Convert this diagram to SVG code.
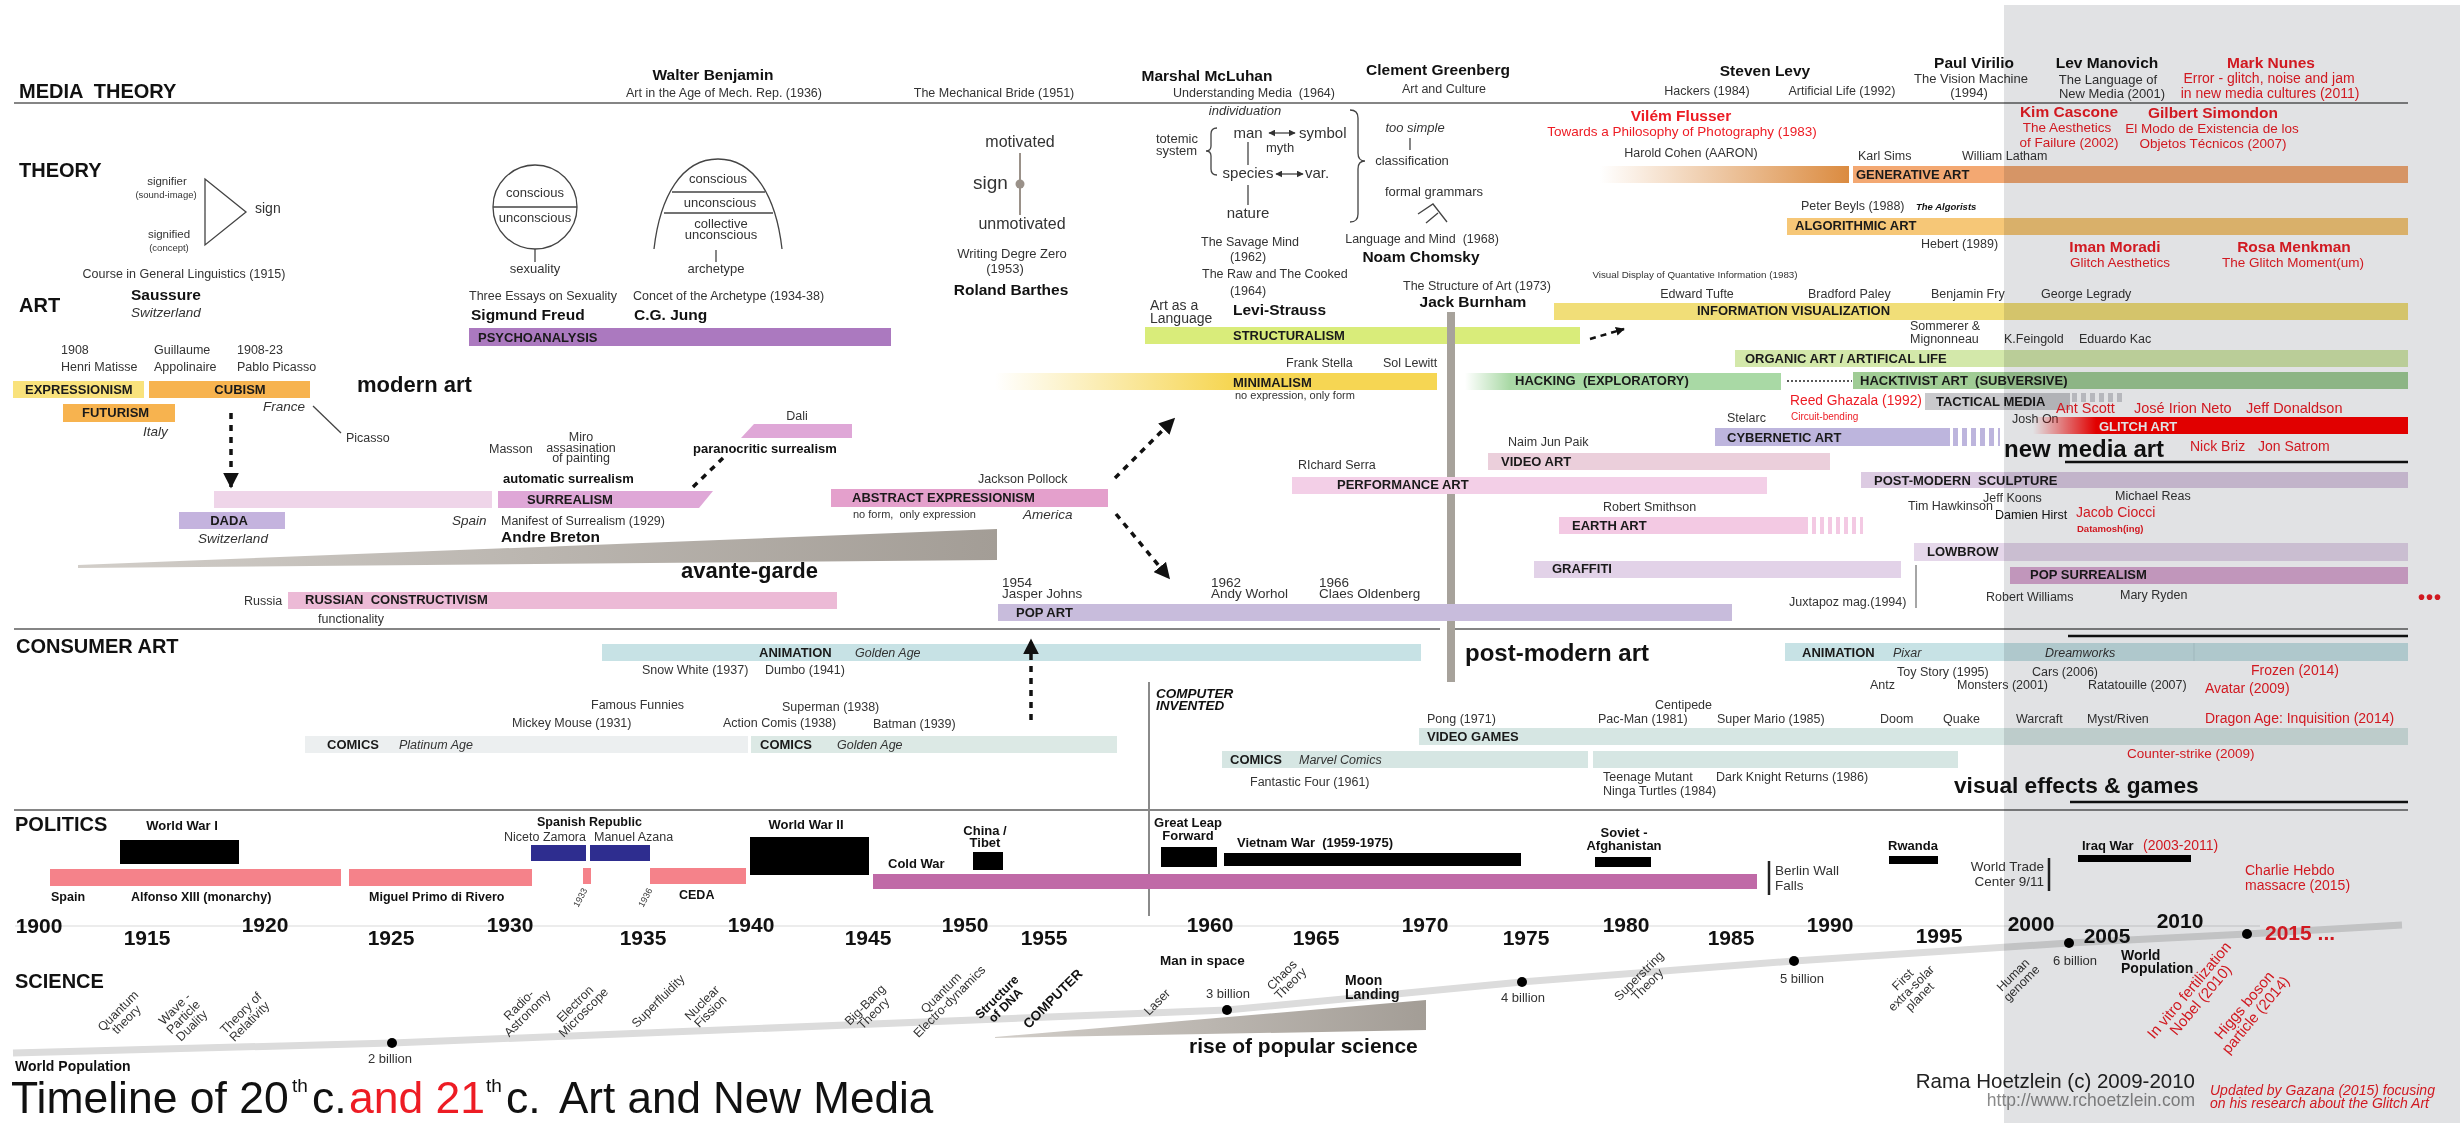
<svg xmlns="http://www.w3.org/2000/svg" width="2460" height="1123" viewBox="0 0 2460 1123">
<defs>
<style>
text{font-family:"Liberation Sans",Arial,sans-serif;font-size:12.5px;fill:#333}
.b{font-weight:bold;fill:#111}
.i{font-style:italic}
.m{text-anchor:middle}
.e{text-anchor:end}
.h{font-size:20px;font-weight:bold;fill:#111}
.n{font-size:15.5px;font-weight:bold;fill:#111}
.bl{font-size:13px;font-weight:bold;fill:#1a1a1a}
.yr{font-size:21px;font-weight:bold;fill:#111;text-anchor:middle}
.r{fill:#ed1c24}
.s{font-size:11px}
.xs{font-size:9.5px}
.md{font-size:13px}
.lg{font-size:15px}
.rot{font-size:12.5px;text-anchor:middle}
.ln{stroke:#444;fill:none;stroke-width:1.3}
.sep{stroke:#858585;stroke-width:2}
.ul{stroke:#111;stroke-width:2.5}
.dash{stroke:#111;stroke-width:3.5;fill:none;stroke-dasharray:6 6}
</style>
<marker id="ah" markerUnits="userSpaceOnUse" markerWidth="16" markerHeight="16" viewBox="0 0 10 10" refX="9" refY="5" orient="auto"><path d="M0,0 L10,5 L0,10 z" fill="#111"/></marker>
<marker id="ahs" markerUnits="userSpaceOnUse" markerWidth="9" markerHeight="9" viewBox="0 0 10 10" refX="9" refY="5" orient="auto"><path d="M0,0 L10,5 L0,10 z" fill="#111"/></marker>
<marker id="dbl" markerUnits="userSpaceOnUse" markerWidth="7" markerHeight="7" viewBox="0 0 10 10" refX="9" refY="5" orient="auto-start-reverse"><path d="M0,0 L10,5 L0,10 z" fill="#333"/></marker>
<linearGradient id="gMin" gradientUnits="userSpaceOnUse" x1="995" y1="0" x2="1230" y2="0"><stop offset="0" stop-color="#f6d653" stop-opacity="0"/><stop offset="1" stop-color="#f6d653"/></linearGradient>
<linearGradient id="gGen" gradientUnits="userSpaceOnUse" x1="1600" y1="0" x2="1849" y2="0"><stop offset="0" stop-color="#db8b40" stop-opacity="0"/><stop offset="1" stop-color="#db8b40"/></linearGradient>
<linearGradient id="gHack" gradientUnits="userSpaceOnUse" x1="1465" y1="0" x2="1510" y2="0"><stop offset="0" stop-color="#a9d9a5" stop-opacity="0"/><stop offset="1" stop-color="#a9d9a5"/></linearGradient>
<linearGradient id="gGl" gradientUnits="userSpaceOnUse" x1="2033" y1="0" x2="2096" y2="0"><stop offset="0" stop-color="#ff0000" stop-opacity="0"/><stop offset="1" stop-color="#ff0000"/></linearGradient>
<linearGradient id="gAv" gradientUnits="userSpaceOnUse" x1="78" y1="0" x2="997" y2="0"><stop offset="0" stop-color="#d2cec9"/><stop offset="1" stop-color="#a39d96"/></linearGradient>
<linearGradient id="gPop" gradientUnits="userSpaceOnUse" x1="995" y1="0" x2="1426" y2="0"><stop offset="0" stop-color="#d2cec9"/><stop offset="1" stop-color="#a39d96"/></linearGradient>
<pattern id="pCyb" patternUnits="userSpaceOnUse" x="1953" y="0" width="9" height="20"><rect width="5" height="20" fill="#bdb5dd"/></pattern>
<pattern id="pEarth" patternUnits="userSpaceOnUse" x="1812" y="0" width="8" height="20"><rect width="4" height="20" fill="#f3c9e3"/></pattern>
<pattern id="pTac" patternUnits="userSpaceOnUse" x="2072" y="0" width="9" height="20"><rect width="5" height="20" fill="#cfcfd2"/></pattern>
</defs>
<rect width="2460" height="1123" fill="#fff"/>

<!-- section headings and rules -->
<g id="sections">
<text class="h" x="19" y="98" xml:space="preserve">MEDIA  THEORY</text>
<text class="h" x="19" y="177">THEORY</text>
<text class="h" x="19" y="312">ART</text>
<text class="h" x="16" y="653">CONSUMER ART</text>
<text class="h" x="15" y="831">POLITICS</text>
<text class="h" x="15" y="988">SCIENCE</text>
<line class="sep" x1="14" y1="103" x2="2408" y2="103"/>
<line class="sep" x1="14" y1="629" x2="1440" y2="629"/>
<line class="sep" x1="1455" y1="629" x2="2408" y2="629"/>
<line class="sep" x1="14" y1="810" x2="2408" y2="810"/>
<line class="ul" x1="2065" y1="462" x2="2408" y2="462"/>
<line class="ul" x1="2068" y1="636" x2="2408" y2="636"/>
<line class="ul" x1="2070" y1="802" x2="2408" y2="802"/>
</g>

<!-- media theory authors -->
<g id="media-theory">
<text class="n m" x="713" y="80">Walter Benjamin</text>
<text class="m" x="724" y="97">Art in the Age of Mech. Rep. (1936)</text>
<text class="m" x="994" y="97">The Mechanical Bride (1951)</text>
<text class="n m" x="1207" y="81">Marshal McLuhan</text>
<text class="m" x="1254" y="97" xml:space="preserve">Understanding Media  (1964)</text>
<text class="n m" x="1438" y="75">Clement Greenberg</text>
<text class="m" x="1444" y="93">Art and Culture</text>
<text class="n m" x="1765" y="76">Steven Levy</text>
<text class="m" x="1707" y="95">Hackers (1984)</text>
<text class="m" x="1842" y="95">Artificial Life (1992)</text>
<text class="n m" x="1974" y="68">Paul Virilio</text>
<text class="m md" x="1971" y="83">The Vision Machine</text>
<text class="m md" x="1969" y="97">(1994)</text>
<text class="n m" x="2107" y="68">Lev Manovich</text>
<text class="m md" x="2108" y="84">The Language of</text>
<text class="m md" x="2112" y="98">New Media (2001)</text>
<text class="n m r" x="2271" y="68">Mark Nunes</text>
<text class="m r" x="2269" y="83" style="font-size:14px">Error - glitch, noise and jam</text>
<text class="m r" x="2270" y="98" style="font-size:14px">in new media cultures (2011)</text>
</g>

<!-- Saussure -->
<g id="saussure">
<text class="m" x="167" y="185" style="font-size:11.5px">signifier</text>
<text class="m xs" x="166" y="198">(sound-image)</text>
<path class="ln" d="M205,179 L246,212 L205,245 Z"/>
<text x="255" y="213" style="font-size:14px">sign</text>
<text class="m" x="169" y="238" style="font-size:11.5px">signified</text>
<text class="m xs" x="169" y="251">(concept)</text>
<text class="m" x="184" y="278">Course in General Linguistics (1915)</text>
<text class="n" x="131" y="300">Saussure</text>
<text class="i" x="131" y="317" style="font-size:13.5px">Switzerland</text>
</g>

<!-- Freud -->
<g id="freud">
<circle class="ln" cx="535" cy="207" r="42"/>
<line class="ln" x1="493" y1="207" x2="577" y2="207"/>
<text class="m md" x="535" y="197">conscious</text>
<text class="m md" x="535" y="222">unconscious</text>
<line class="ln" x1="535" y1="249" x2="535" y2="262"/>
<text class="m md" x="535" y="273">sexuality</text>
<text x="469" y="300">Three Essays on Sexuality</text>
<text class="n" x="471" y="320">Sigmund Freud</text>
<rect x="469" y="328" width="422" height="18" fill="#ab79bf"/>
<text class="bl" x="478" y="342">PSYCHOANALYSIS</text>
</g>

<!-- Jung -->
<g id="jung">
<path class="ln" d="M654,249 C660,196 682,159 718,159 C754,159 776,196 782,249"/>
<line class="ln" x1="672" y1="192" x2="765" y2="192"/>
<line class="ln" x1="664" y1="213" x2="773" y2="213"/>
<text class="m md" x="718" y="183">conscious</text>
<text class="m md" x="720" y="207">unconscious</text>
<text class="m md" x="721" y="228">collective</text>
<text class="m md" x="721" y="239">unconscious</text>
<line class="ln" x1="716" y1="250" x2="716" y2="262"/>
<text class="m md" x="716" y="273">archetype</text>
<text x="633" y="300">Concet of the Archetype (1934-38)</text>
<text class="n" x="634" y="320">C.G. Jung</text>
</g>

<!-- Barthes -->
<g id="barthes">
<text class="m" x="1020" y="147" style="font-size:16px">motivated</text>
<line x1="1020" y1="153" x2="1020" y2="215" stroke="#9a9189" stroke-width="2"/>
<circle cx="1020" cy="184" r="4.5" fill="#9a9189"/>
<text x="973" y="189" style="font-size:19px">sign</text>
<text class="m" x="1022" y="229" style="font-size:16px">unmotivated</text>
<text class="m md" x="1012" y="258">Writing Degre Zero</text>
<text class="m md" x="1005" y="273">(1953)</text>
<text class="n m" x="1011" y="295">Roland Barthes</text>
</g>

<!-- Levi-Strauss -->
<g id="levi-strauss">
<text class="m i md" x="1245" y="115">individuation</text>
<text x="1156" y="143" class="md">totemic</text>
<text x="1156" y="155" class="md">system</text>
<path class="ln" d="M1217,128 Q1211,128 1211,134 L1211,146 Q1211,151 1206,151 Q1211,151 1211,156 L1211,169 Q1211,175 1217,175"/>
<text class="m lg" x="1248" y="138">man</text>
<line class="ln" x1="1269" y1="133" x2="1295" y2="133" marker-start="url(#dbl)" marker-end="url(#dbl)"/>
<text class="lg" x="1299" y="138">symbol</text>
<text class="md" x="1266" y="152">myth</text>
<line class="ln" x1="1248" y1="142" x2="1248" y2="165"/>
<text class="m lg" x="1248" y="178">species</text>
<line class="ln" x1="1276" y1="174" x2="1303" y2="174" marker-start="url(#dbl)" marker-end="url(#dbl)"/>
<text class="lg" x="1305" y="178">var.</text>
<line class="ln" x1="1248" y1="185" x2="1248" y2="205"/>
<text class="m lg" x="1248" y="218">nature</text>
<path class="ln" d="M1350,110 Q1358,110 1358,118 L1358,153 Q1358,161 1365,161 Q1358,161 1358,169 L1358,214 Q1358,222 1350,222"/>
<text x="1201" y="246">The Savage Mind</text>
<text class="m" x="1248" y="261">(1962)</text>
<text x="1202" y="278">The Raw and The Cooked</text>
<text class="m" x="1248" y="295">(1964)</text>
<text class="n" x="1233" y="315">Levi-Strauss</text>
<text x="1150" y="310" style="font-size:14px">Art as a</text>
<text x="1150" y="323" style="font-size:14px">Language</text>
<rect x="1145" y="327" width="435" height="17" fill="#d9ec7a"/>
<text class="bl" x="1233" y="340">STRUCTURALISM</text>
</g>

<!-- Chomsky -->
<g id="chomsky">
<text class="m i md" x="1415" y="132">too simple</text>
<line class="ln" x1="1410" y1="138" x2="1410" y2="150"/>
<text class="m md" x="1412" y="165">classification</text>
<text class="m md" x="1434" y="196">formal grammars</text>
<path class="ln" d="M1418,214 L1433,204 L1447,222 M1426,223 L1438,213"/>
<text class="m" x="1422" y="243" xml:space="preserve">Language and Mind  (1968)</text>
<text class="n m" x="1421" y="262">Noam Chomsky</text>
</g>

<!-- Burnham and the post-modern divide -->
<g id="burnham">
<text class="m" x="1477" y="290">The Structure of Art (1973)</text>
<text class="n m" x="1473" y="307">Jack Burnham</text>
<rect x="1447" y="312" width="8" height="370" fill="#a7a29b"/>
</g>

<!-- red media theorists -->
<g id="theorists-2000s">
<text class="n m r" x="1681" y="121">Vilém Flusser</text>
<text class="m r" x="1682" y="136" style="font-size:13.5px">Towards a Philosophy of Photography (1983)</text>
<text class="n m r" x="2069" y="117">Kim Cascone</text>
<text class="m r" x="2067" y="132" style="font-size:13.5px">The Aesthetics</text>
<text class="m r" x="2069" y="147" style="font-size:13.5px">of Failure (2002)</text>
<text class="n m r" x="2213" y="118">Gilbert Simondon</text>
<text class="m r" x="2212" y="133" style="font-size:13.5px">El Modo de Existencia de los</text>
<text class="m r" x="2213" y="148" style="font-size:13.5px">Objetos Técnicos (2007)</text>
<text class="n m r" x="2115" y="252">Iman Moradi</text>
<text class="m r" x="2120" y="267" style="font-size:13.5px">Glitch Aesthetics</text>
<text class="n m r" x="2294" y="252">Rosa Menkman</text>
<text class="m r" x="2293" y="267" style="font-size:13.5px">The Glitch Moment(um)</text>
</g>

<!-- generative / algorithmic -->
<g id="generative-art">
<text class="m" x="1691" y="157">Harold Cohen (AARON)</text>
<rect x="1600" y="166" width="249" height="17" fill="url(#gGen)"/>
<rect x="1853" y="166" width="555" height="17" fill="#f3a872"/>
<text x="1858" y="160">Karl Sims</text>
<text x="1962" y="160">William Latham</text>
<text class="bl" x="1856" y="179">GENERATIVE ART</text>
</g>
<g id="algorithmic-art">
<text x="1801" y="210">Peter Beyls (1988)</text>
<text class="b i xs" x="1916" y="210">The Algorists</text>
<rect x="1787" y="218" width="621" height="17" fill="#f6c777"/>
<text class="bl" x="1795" y="230">ALGORITHMIC ART</text>
<text x="1921" y="248">Hebert (1989)</text>
</g>

<!-- information visualization -->
<g id="info-vis">
<text class="m" x="1695" y="278" style="font-size:9.8px">Visual Display of Quantative Information (1983)</text>
<text class="m" x="1697" y="298">Edward Tufte</text>
<text x="1808" y="298">Bradford Paley</text>
<text x="1931" y="298">Benjamin Fry</text>
<text x="2041" y="298">George Legrady</text>
<rect x="1554" y="303" width="854" height="17" fill="#f1de78"/>
<text class="bl" x="1697" y="315">INFORMATION VISUALIZATION</text>
</g>
<g id="organic-art">
<text x="1910" y="330">Sommerer &amp;</text>
<text x="1910" y="343">Mignonneau</text>
<text x="2004" y="343">K.Feingold</text>
<text x="2079" y="343">Eduardo Kac</text>
<rect x="1735" y="350" width="673" height="17" fill="#d3e8aa"/>
<text class="bl" x="1745" y="363">ORGANIC ART / ARTIFICAL LIFE</text>
</g>

<!-- minimalism -->
<g id="minimalism">
<text x="1286" y="367">Frank Stella</text>
<text x="1383" y="367">Sol Lewitt</text>
<rect x="995" y="373" width="442" height="17" fill="url(#gMin)"/>
<text class="bl" x="1233" y="387">MINIMALISM</text>
<text class="s" x="1235" y="399">no expression, only form</text>
</g>

<!-- hacking -->
<g id="hacking">
<rect x="1465" y="373" width="316" height="17" fill="url(#gHack)"/>
<text class="bl" x="1515" y="385" xml:space="preserve">HACKING  (EXPLORATORY)</text>
</g>
<g id="hacktivist-art">
<rect x="1853" y="372" width="555" height="17" fill="#a0cc95"/>
<text class="bl" x="1860" y="385" xml:space="preserve">HACKTIVIST ART  (SUBVERSIVE)</text>
<text class="r" x="1790" y="405" style="font-size:13.8px">Reed Ghazala (1992)</text>
<text class="r" x="1791" y="420" style="font-size:10px">Circuit-bending</text>
</g>
<g id="tactical-media">
<rect x="1925" y="393" width="145" height="17" fill="#c9c9cc"/>
<rect x="2070" y="393" width="53" height="9" fill="url(#pTac)"/>
<text class="bl" x="1936" y="406">TACTICAL MEDIA</text>
</g>
<g id="glitch-art">
<text class="r" x="2056" y="413" style="font-size:14.5px">Ant Scott</text>
<text class="r" x="2134" y="413" style="font-size:14.5px">José Irion Neto</text>
<text class="r" x="2246" y="413" style="font-size:14.5px">Jeff Donaldson</text>
<text x="2012" y="423">Josh On</text>
<rect x="2033" y="417" width="375" height="17" fill="url(#gGl)"/>
<text class="bl" x="2099" y="431" style="fill:#fff">GLITCH ART</text>
<text class="r" x="2190" y="451" style="font-size:14px">Nick Briz</text>
<text class="r" x="2258" y="451" style="font-size:14px">Jon Satrom</text>
<text x="2004" y="457" style="font-size:24px;font-weight:bold;fill:#111">new media art</text>
</g>

<!-- cybernetic, video, performance, earth art, graffiti -->
<g id="cybernetic-art">
<text x="1727" y="422">Stelarc</text>
<rect x="1715" y="428" width="235" height="18" fill="#bdb5dd"/>
<rect x="1953" y="428" width="47" height="18" fill="url(#pCyb)"/>
<text class="bl" x="1727" y="442">CYBERNETIC ART</text>
</g>
<g id="video-art">
<text x="1508" y="446">Naim Jun Paik</text>
<rect x="1488" y="453" width="342" height="17" fill="#ebcfdb"/>
<text class="bl" x="1501" y="466">VIDEO ART</text>
</g>
<g id="performance-art">
<text x="1298" y="469">RIchard Serra</text>
<rect x="1292" y="477" width="475" height="17" fill="#f3cfe7"/>
<text class="bl" x="1337" y="489">PERFORMANCE ART</text>
</g>
<g id="earth-art">
<text x="1603" y="511">Robert Smithson</text>
<rect x="1559" y="517" width="249" height="17" fill="#f3c9e3"/>
<rect x="1812" y="517" width="51" height="17" fill="url(#pEarth)"/>
<text class="bl" x="1572" y="530">EARTH ART</text>
</g>
<g id="graffiti">
<rect x="1534" y="561" width="367" height="17" fill="#e2d2e8"/>
<text class="bl" x="1552" y="573">GRAFFITI</text>
</g>

<!-- post-modern sculpture, lowbrow -->
<g id="post-modern-sculpture">
<rect x="1861" y="472" width="547" height="16" fill="#dccbe2"/>
<text class="bl" x="1874" y="485" xml:space="preserve">POST-MODERN  SCULPTURE</text>
<text x="1983" y="502">Jeff Koons</text>
<text x="1908" y="510">Tim Hawkinson</text>
<text x="1995" y="519" style="fill:#111">Damien Hirst</text>
<text x="2115" y="500">Michael Reas</text>
<text class="r" x="2076" y="517" style="font-size:14px">Jacob Ciocci</text>
<text class="r" x="2077" y="532" style="font-size:9.5px;font-weight:bold">Datamosh(ing)</text>
</g>
<g id="lowbrow">
<rect x="1914" y="543" width="494" height="18" fill="#e5d7ea"/>
<text class="bl" x="1927" y="556">LOWBROW</text>
<line x1="1916" y1="565" x2="1916" y2="608" stroke="#888" stroke-width="1.5"/>
<text x="1789" y="606">Juxtapoz mag.(1994)</text>
</g>
<g id="pop-surrealism">
<rect x="2010" y="567" width="398" height="17" fill="#dba9d1"/>
<text class="bl" x="2030" y="579">POP SURREALISM</text>
<text x="1986" y="601">Robert Williams</text>
<text x="2120" y="599">Mary Ryden</text>
<text class="r" x="2418" y="604" style="font-size:20px;font-weight:bold;letter-spacing:1px">•••</text>
</g>

<!-- modern art movements -->
<g id="expressionism">
<text x="61" y="354">1908</text>
<text x="61" y="371">Henri Matisse</text>
<rect x="13" y="381" width="131" height="17" fill="#f9e27c"/>
<text class="bl" x="25" y="394">EXPRESSIONISM</text>
</g>
<g id="cubism">
<text x="154" y="354">Guillaume</text>
<text x="154" y="371">Appolinaire</text>
<text x="237" y="354">1908-23</text>
<text x="237" y="371">Pablo Picasso</text>
<rect x="149" y="381" width="161" height="17" fill="#f7b34f"/>
<text class="bl m" x="240" y="394">CUBISM</text>
<text class="i" x="263" y="411" style="font-size:13.5px">France</text>
<line class="ln" x1="313" y1="406" x2="341" y2="433"/>
<text x="346" y="442">Picasso</text>
</g>
<g id="futurism">
<rect x="63" y="404" width="112" height="18" fill="#f7b34f"/>
<text class="bl" x="82" y="417">FUTURISM</text>
<text class="i" x="143" y="436" style="font-size:13.5px">Italy</text>
</g>
<text x="357" y="392" style="font-size:22px;font-weight:bold;fill:#111">modern art</text>
<g id="dada">
<rect x="214" y="491" width="278" height="17" fill="#efd5e9"/>
<rect x="179" y="512" width="106" height="17" fill="#c4b3de"/>
<text class="bl m" x="229" y="525">DADA</text>
<text class="i m" x="233" y="543" style="font-size:13.5px">Switzerland</text>
<text class="i" x="452" y="525" style="font-size:13.5px">Spain</text>
</g>
<g id="surrealism">
<text x="489" y="453">Masson</text>
<text class="m" x="581" y="441">Miro</text>
<text class="m" x="581" y="452">assasination</text>
<text class="m" x="581" y="462">of painting</text>
<text class="b" x="503" y="483" style="font-size:13px">automatic surrealism</text>
<path d="M498,491 L713,491 L699,508 L498,508 Z" fill="#dfa7d7"/>
<text class="bl" x="527" y="504">SURREALISM</text>
<text x="501" y="525">Manifest of Surrealism (1929)</text>
<text class="n" x="501" y="542">Andre Breton</text>
<text class="m" x="797" y="420">Dali</text>
<path d="M754,424 L852,424 L852,438 L741,438 Z" fill="#dfa7d7"/>
<text class="b" x="693" y="453" style="font-size:13px">paranocritic surrealism</text>
</g>
<g id="abstract-expressionism">
<text x="978" y="483">Jackson Pollock</text>
<rect x="831" y="489" width="277" height="18" fill="#e4a0cc"/>
<text class="bl" x="852" y="502">ABSTRACT EXPRESSIONISM</text>
<text class="s" x="853" y="518" xml:space="preserve">no form,  only expression</text>
<text class="i" x="1023" y="519" style="font-size:13.5px">America</text>
</g>
<g id="avante-garde">
<polygon points="78,565 997,529 997,560 78,568" fill="url(#gAv)"/>
<text x="681" y="578" style="font-size:22px;font-weight:bold;fill:#111">avante-garde</text>
</g>
<g id="russian-constructivism">
<text x="244" y="605">Russia</text>
<rect x="288" y="592" width="549" height="17" fill="#ecbad6"/>
<text class="bl" x="305" y="604" xml:space="preserve">RUSSIAN  CONSTRUCTIVISM</text>
<text x="318" y="623">functionality</text>
</g>
<g id="pop-art">
<text x="1002" y="587" style="font-size:13.5px">1954</text>
<text x="1002" y="598" style="font-size:13.5px">Jasper Johns</text>
<text x="1211" y="587" style="font-size:13.5px">1962</text>
<text x="1211" y="598" style="font-size:13.5px">Andy Worhol</text>
<text x="1319" y="587" style="font-size:13.5px">1966</text>
<text x="1319" y="598" style="font-size:13.5px">Claes Oldenberg</text>
<rect x="998" y="604" width="734" height="17" fill="#c8bcdc"/>
<text class="bl" x="1016" y="617">POP ART</text>
</g>
<text x="1465" y="661" style="font-size:24px;font-weight:bold;fill:#111">post-modern art</text>

<!-- consumer art -->
<g id="animation-golden">
<rect x="602" y="644" width="819" height="17" fill="#c7e2e5"/>
<text class="bl" x="759" y="657">ANIMATION</text>
<text class="i" x="855" y="657">Golden Age</text>
<text x="642" y="674">Snow White (1937)</text>
<text x="765" y="674">Dumbo (1941)</text>
</g>
<g id="comics-platinum">
<text x="591" y="709">Famous Funnies</text>
<text x="512" y="727">Mickey Mouse (1931)</text>
<rect x="305" y="736" width="443" height="17" fill="#eceff0"/>
<text class="bl" x="327" y="749">COMICS</text>
<text class="i" x="399" y="749">Platinum Age</text>
</g>
<g id="comics-golden">
<text x="782" y="711">Superman (1938)</text>
<text x="723" y="727">Action Comis (1938)</text>
<text x="873" y="728">Batman (1939)</text>
<rect x="751" y="736" width="366" height="17" fill="#dce9e5"/>
<text class="bl" x="760" y="749">COMICS</text>
<text class="i" x="837" y="749">Golden Age</text>
</g>
<g id="computer-invented">
<line x1="1149" y1="682" x2="1149" y2="916" stroke="#8a8a8a" stroke-width="2"/>
<text class="b i" x="1156" y="698" style="font-size:13.5px">COMPUTER</text>
<text class="b i" x="1156" y="710" style="font-size:13.5px">INVENTED</text>
</g>
<g id="animation-modern">
<rect x="1785" y="643" width="623" height="18" fill="#c7e2e5"/>
<line x1="2194" y1="643" x2="2194" y2="661" stroke="#b5cfd3" stroke-width="1"/>
<text class="bl" x="1802" y="657">ANIMATION</text>
<text class="i" x="1893" y="657">Pixar</text>
<text class="i" x="2045" y="657">Dreamworks</text>
<text x="1897" y="676">Toy Story (1995)</text>
<text x="2032" y="676">Cars (2006)</text>
<text x="1870" y="689">Antz</text>
<text x="1957" y="689">Monsters (2001)</text>
<text x="2088" y="689">Ratatouille (2007)</text>
<text class="r" x="2251" y="675" style="font-size:14px">Frozen (2014)</text>
<text class="r" x="2205" y="693" style="font-size:14px">Avatar (2009)</text>
</g>
<g id="video-games">
<text x="1427" y="723">Pong (1971)</text>
<text x="1655" y="709">Centipede</text>
<text x="1598" y="723">Pac-Man (1981)</text>
<text x="1717" y="723">Super Mario (1985)</text>
<text x="1880" y="723">Doom</text>
<text x="1943" y="723">Quake</text>
<text x="2016" y="723">Warcraft</text>
<text x="2087" y="723">Myst/Riven</text>
<text class="r" x="2205" y="723" style="font-size:14px">Dragon Age: Inquisition (2014)</text>
<rect x="1419" y="728" width="989" height="17" fill="#d6e6e3"/>
<text class="bl" x="1427" y="741">VIDEO GAMES</text>
<text class="r" x="2127" y="758" style="font-size:13.5px">Counter-strike (2009)</text>
</g>
<g id="comics-marvel">
<rect x="1222" y="751" width="366" height="17" fill="#d6e6e3"/>
<rect x="1593" y="751" width="365" height="17" fill="#d6e6e3"/>
<text class="bl" x="1230" y="764">COMICS</text>
<text class="i" x="1299" y="764">Marvel Comics</text>
<text x="1250" y="786">Fantastic Four (1961)</text>
<text x="1603" y="781">Teenage Mutant</text>
<text x="1603" y="795">Ninga Turtles (1984)</text>
<text x="1716" y="781">Dark Knight Returns (1986)</text>
<text x="1954" y="793" style="font-size:22.7px;font-weight:bold;fill:#111">visual effects &amp; games</text>
</g>

<!-- politics -->
<g id="spain">
<rect x="50" y="869" width="291" height="17" fill="#f5828a"/>
<rect x="349" y="869" width="183" height="17" fill="#f5828a"/>
<rect x="583" y="868" width="8" height="16" fill="#f5828a"/>
<rect x="650" y="868" width="96" height="16" fill="#f5828a"/>
<text class="b" x="51" y="901">Spain</text>
<text class="b" x="131" y="901">Alfonso XIII (monarchy)</text>
<text class="b" x="369" y="901">Miguel Primo di Rivero</text>
<text class="b" x="679" y="899">CEDA</text>
<text class="m" transform="translate(583,899) rotate(-62)" style="font-size:9px">1933</text>
<text class="m" transform="translate(648,899) rotate(-62)" style="font-size:9px">1936</text>
<text class="b" x="537" y="826">Spanish Republic</text>
<text x="504" y="841">Niceto Zamora</text>
<text x="594" y="841">Manuel Azana</text>
<rect x="531" y="845" width="55" height="16" fill="#2e2d8f"/>
<rect x="590" y="845" width="60" height="16" fill="#2e2d8f"/>
</g>
<g id="wars">
<text class="b m" x="182" y="830" style="font-size:13px">World War I</text>
<rect x="120" y="840" width="119" height="24" fill="#000"/>
<text class="b m" x="806" y="829" style="font-size:13px">World War II</text>
<rect x="750" y="837" width="119" height="38" fill="#000"/>
<text class="b" x="888" y="868" style="font-size:13px">Cold War</text>
<rect x="873" y="874" width="884" height="15" fill="#c06aa7"/>
<text class="b m" x="985" y="835" style="font-size:13px">China /</text>
<text class="b m" x="985" y="847" style="font-size:13px">Tibet</text>
<rect x="973" y="852" width="30" height="18" fill="#000"/>
<text class="b m" x="1188" y="827" style="font-size:13px">Great Leap</text>
<text class="b m" x="1188" y="840" style="font-size:13px">Forward</text>
<rect x="1161" y="847" width="56" height="20" fill="#000"/>
<text class="b" x="1237" y="847" style="font-size:13px" xml:space="preserve">Vietnam War  (1959-1975)</text>
<rect x="1224" y="853" width="297" height="13" fill="#000"/>
<text class="b m" x="1624" y="837" style="font-size:13px">Soviet -</text>
<text class="b m" x="1624" y="850" style="font-size:13px">Afghanistan</text>
<rect x="1595" y="857" width="56" height="10" fill="#000"/>
<line x1="1769" y1="861" x2="1769" y2="895" stroke="#222" stroke-width="2.5"/>
<text x="1775" y="875" style="font-size:13.5px">Berlin Wall</text>
<text x="1775" y="890" style="font-size:13.5px">Falls</text>
<text class="b m" x="1913" y="850" style="font-size:13px">Rwanda</text>
<rect x="1889" y="856" width="49" height="8" fill="#000"/>
<text class="e" x="2044" y="871" style="font-size:13.5px">World Trade</text>
<text class="e" x="2044" y="886" style="font-size:13.5px">Center 9/11</text>
<line x1="2049" y1="858" x2="2049" y2="891" stroke="#222" stroke-width="2.5"/>
<text class="b" x="2082" y="850" style="font-size:13px">Iraq War</text>
<text class="r" x="2143" y="850" style="font-size:14px">(2003-2011)</text>
<rect x="2078" y="855" width="113" height="7" fill="#000"/>
<text class="r" x="2245" y="875" style="font-size:14px">Charlie Hebdo</text>
<text class="r" x="2245" y="890" style="font-size:14px">massacre (2015)</text>
</g>

<!-- science and population (band drawn beneath the year labels) -->
<g id="population">
<polyline points="13,1053 392,1043 1227,1010 1522,982 1794,961 2069,943 2247,934 2402,925" fill="none" stroke="#dcdcdc" stroke-width="7" stroke-linejoin="round"/>
<circle cx="392" cy="1043" r="5" fill="#000"/>
<circle cx="1227" cy="1010" r="5" fill="#000"/>
<circle cx="1522" cy="982" r="5" fill="#000"/>
<circle cx="1794" cy="961" r="5" fill="#000"/>
<circle cx="2069" cy="943" r="5" fill="#000"/>
<circle cx="2247" cy="934" r="5" fill="#000"/>
<text class="m md" x="390" y="1063">2 billion</text>
<text class="m md" x="1228" y="998">3 billion</text>
<text class="m md" x="1523" y="1002">4 billion</text>
<text class="m md" x="1802" y="983">5 billion</text>
<text class="m md" x="2075" y="965">6 billion</text>
<text class="b" x="15" y="1071" style="font-size:14px">World Population</text>
<text class="b" x="2121" y="960" style="font-size:14px">World</text>
<text class="b" x="2121" y="973" style="font-size:14px">Population</text>
</g>

<!-- year axis -->
<g id="timeline">
<line x1="15" y1="926" x2="2260" y2="926" stroke="#e6e6e6" stroke-width="1.5"/>
<text class="yr" x="39" y="933">1900</text>
<text class="yr" x="147" y="945">1915</text>
<text class="yr" x="265" y="932">1920</text>
<text class="yr" x="391" y="945">1925</text>
<text class="yr" x="510" y="932">1930</text>
<text class="yr" x="643" y="945">1935</text>
<text class="yr" x="751" y="932">1940</text>
<text class="yr" x="868" y="945">1945</text>
<text class="yr" x="965" y="932">1950</text>
<text class="yr" x="1044" y="945">1955</text>
<text class="yr" x="1210" y="932">1960</text>
<text class="yr" x="1316" y="945">1965</text>
<text class="yr" x="1425" y="932">1970</text>
<text class="yr" x="1526" y="945">1975</text>
<text class="yr" x="1626" y="932">1980</text>
<text class="yr" x="1731" y="945">1985</text>
<text class="yr" x="1830" y="932">1990</text>
<text class="yr" x="1939" y="943">1995</text>
<text class="yr" x="2031" y="931">2000</text>
<text class="yr" x="2107" y="943">2005</text>
<text class="yr" x="2180" y="928">2010</text>
<text class="r" x="2265" y="940" style="font-size:21px;font-weight:bold">2015 ...</text>
</g>

<g id="popular-science">
<polygon points="995,1037 1426,1000 1426,1030 995,1038" fill="url(#gPop)"/>
<text x="1189" y="1053" style="font-size:21px;font-weight:bold;fill:#111">rise of popular science</text>
<text class="b" x="1160" y="965" style="font-size:13.5px">Man in space</text>
<text class="b" x="1345" y="985" style="font-size:14px">Moon</text>
<text class="b" x="1345" y="999" style="font-size:14px">Landing</text>
</g>
<g id="discoveries">
<text class="rot" transform="translate(123,1016) rotate(-45)"><tspan x="0" dy="-3">Quantum</tspan><tspan x="0" dy="12">theory</tspan></text>
<text class="rot" transform="translate(184,1018) rotate(-45)"><tspan x="0" dy="-9">Wave -</tspan><tspan x="0" dy="12">Particle</tspan><tspan x="0" dy="12">Duality</tspan></text>
<text class="rot" transform="translate(246,1018) rotate(-45)"><tspan x="0" dy="-3">Theory of</tspan><tspan x="0" dy="12">Relativity</tspan></text>
<text class="rot" transform="translate(524,1010) rotate(-45)"><tspan x="0" dy="-3">Radio-</tspan><tspan x="0" dy="12">Astronomy</tspan></text>
<text class="rot" transform="translate(580,1009) rotate(-45)"><tspan x="0" dy="-3">Electron</tspan><tspan x="0" dy="12">Microscope</tspan></text>
<text class="rot" transform="translate(661,1004) rotate(-45)">Superfluidity</text>
<text class="rot" transform="translate(707,1008) rotate(-45)"><tspan x="0" dy="-3">Nuclear</tspan><tspan x="0" dy="12">Fission</tspan></text>
<text class="rot" transform="translate(870,1010) rotate(-45)"><tspan x="0" dy="-3">Big-Bang</tspan><tspan x="0" dy="12">Theory</tspan></text>
<text class="rot" transform="translate(946,998) rotate(-45)"><tspan x="0" dy="-3">Quantum</tspan><tspan x="0" dy="12">Electro-dynamics</tspan></text>
<text class="rot" transform="translate(1002,1002) rotate(-45)" style="font-weight:bold;fill:#111"><tspan x="0" dy="-3">Structure</tspan><tspan x="0" dy="12">of DNA</tspan></text>
<text class="rot" transform="translate(1056,1002) rotate(-45)" style="font-weight:bold;fill:#111;font-size:13.5px">COMPUTER</text>
<text class="rot" transform="translate(1160,1005) rotate(-45)">Laser</text>
<text class="rot" transform="translate(1287,980) rotate(-45)"><tspan x="0" dy="-3">Chaos</tspan><tspan x="0" dy="12">Theory</tspan></text>
<text class="rot" transform="translate(1644,981) rotate(-45)"><tspan x="0" dy="-3">Superstring</tspan><tspan x="0" dy="12">Theory</tspan></text>
<text class="rot" transform="translate(1912,989) rotate(-45)"><tspan x="0" dy="-9">First</tspan><tspan x="0" dy="12">extra-solar</tspan><tspan x="0" dy="12">planet</tspan></text>
<text class="rot" transform="translate(2018,980) rotate(-45)"><tspan x="0" dy="-3">Human</tspan><tspan x="0" dy="12">genome</tspan></text>
<text class="rot r" transform="translate(2196,996) rotate(-50)" style="font-size:15px"><tspan x="0" dy="-4">In vitro fertilization</tspan><tspan x="0" dy="15">Nobel (2010)</tspan></text>
<text class="rot r" transform="translate(2251,1011) rotate(-50)" style="font-size:15px"><tspan x="0" dy="-4">Higgs boson</tspan><tspan x="0" dy="15">particle (2014)</tspan></text>
</g>

<!-- influence arrows -->
<g id="connectors">
<line class="dash" x1="231" y1="413" x2="231" y2="487" marker-end="url(#ah)"/>
<line class="dash" x1="693" y1="487" x2="723" y2="458" stroke-dasharray="4 5"/>
<line class="dash" x1="1115" y1="478" x2="1174" y2="419" marker-end="url(#ah)"/>
<line class="dash" x1="1116" y1="514" x2="1169" y2="578" marker-end="url(#ah)"/>
<line class="dash" x1="1031" y1="720" x2="1031" y2="640" marker-end="url(#ah)"/>
<line x1="1590" y1="339" x2="1624" y2="329" stroke="#111" stroke-width="2.5" stroke-dasharray="6 5" marker-end="url(#ahs)"/>
<line x1="1787" y1="381" x2="1852" y2="381" stroke="#222" stroke-width="1.5" stroke-dasharray="2 2"/>
</g>

<!-- title and credits -->
<g id="title">
<text x="11" y="1113" style="font-size:44.5px;fill:#111">Timeline of 20</text>
<text x="292" y="1092" style="font-size:19px;fill:#111">th</text>
<text x="312" y="1113" style="font-size:44.5px;fill:#111">c.</text>
<text class="r" x="349" y="1113" style="font-size:44.5px">and 21</text>
<text x="486" y="1092" style="font-size:19px;fill:#111">th</text>
<text x="506" y="1113" style="font-size:44.5px;fill:#111">c.</text>
<text x="559" y="1113" style="font-size:44px;fill:#111">Art and New Media</text>
</g>
<g id="credits">
<text class="e" x="2195" y="1088" style="font-size:20.5px;fill:#222">Rama Hoetzlein (c) 2009-2010</text>
<text class="e" x="2195" y="1106" style="font-size:17.5px;fill:#8a8a8a">http://www.rchoetzlein.com</text>
<text class="r i" x="2210" y="1095" style="font-size:14px">Updated by Gazana (2015) focusing</text>
<text class="r i" x="2210" y="1108" style="font-size:14px">on his research about the Glitch Art</text>
</g>

<!-- shaded 21st century region -->
<rect id="update-shade" x="2004" y="5" width="456" height="1118" fill="#e1e2e4" style="mix-blend-mode:multiply"/>
</svg>
